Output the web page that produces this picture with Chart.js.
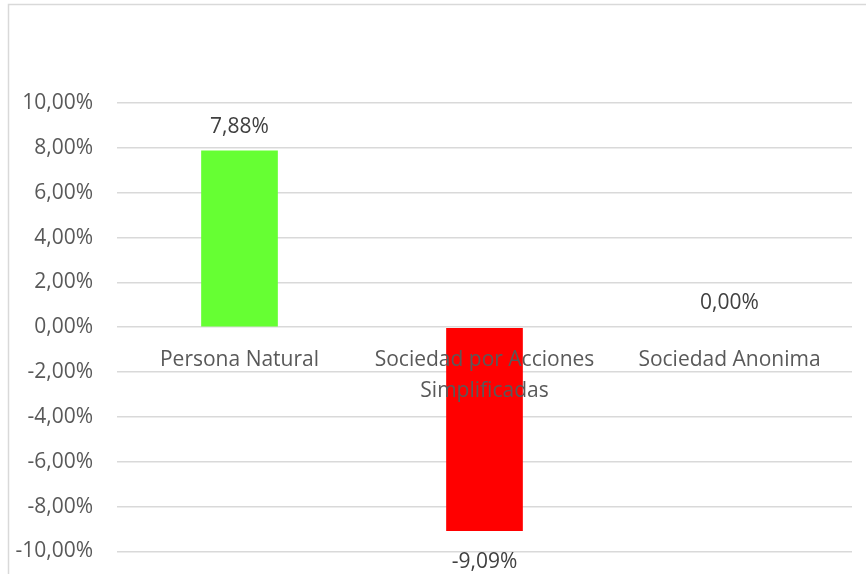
<!DOCTYPE html>
<html>
<head>
<meta charset="utf-8">
<script src="https://cdn.jsdelivr.net/npm/chart.js@4/dist/chart.umd.min.js"></script>
<style>
  html, body { margin: 0; padding: 0; background: #fff; overflow: hidden; }
  #wrap { width: 866px; height: 588px; position: relative; }
</style>
</head>
<body>
<div id="wrap"><canvas id="tipoChart"></canvas></div>
<script>
var categories = ['Persona Natural', ['Sociedad por Acciones', 'Simplificadas'], 'Sociedad Anonima'];
var variacion = [7.88, -9.09, 0.00];
var barColors = ['#66FF33', '#FF0000', '#66FF33'];
var yMin = -10, yMax = 10, yStep = 2;

function pct(v) {
  return v.toFixed(2).replace('.', ',') + '%';
}

// marco gris del grafico (arriba e izquierda)
var framePlugin = {
  id: 'frame',
  beforeDraw: function(chart) {
    var c = chart.ctx;
    c.save();
    c.fillStyle = '#fff';
    c.fillRect(0, 0, chart.width, chart.height);
    c.strokeStyle = '#d9d9d9';
    c.lineWidth = 1.5;
    c.beginPath();
    c.moveTo(8.5, chart.height);
    c.lineTo(8.5, 4.5);
    c.lineTo(chart.width, 4.5);
    c.stroke();
    c.restore();
  }
};

// etiquetas de datos encima / debajo de cada barra
var labelPlugin = {
  id: 'dataLabels',
  afterDatasetsDraw: function(chart) {
    var c = chart.ctx;
    var meta = chart.getDatasetMeta(0);
    c.save();
    c.font = '21px "Open Sans"';
    c.fillStyle = '#404040';
    c.textAlign = 'center';
    c.textBaseline = 'alphabetic';
    meta.data.forEach(function(bar, i) {
      var v = variacion[i];
      var y = v >= 0 ? bar.y - 18 : bar.y + 37;
      c.fillText(pct(v), bar.x, y);
    });
    c.restore();
  }
};

document.addEventListener('DOMContentLoaded', function() {
  Chart.defaults.font.family = '"Open Sans"';
  Chart.defaults.font.size = 21;
  Chart.defaults.color = '#595959';

  var ctx = document.getElementById('tipoChart').getContext('2d');
  var chart = new Chart(ctx, {
    type: 'bar',
    data: {
      labels: categories,
      datasets: [{
        data: variacion,
        backgroundColor: barColors,
        borderWidth: 0,
        barPercentage: 0.313,
        categoryPercentage: 1
      }]
    },
    options: {
      responsive: true,
      maintainAspectRatio: false,
      animation: false,
      layout: {
        padding: { top: 103, bottom: 9, left: 0, right: 14 }
      },
      plugins: {
        legend: { display: false },
        tooltip: { enabled: false }
      },
      scales: {
        x: {
          position: { y: 0 },
          grid: { display: false, drawTicks: false },
          border: { display: false },
          ticks: {
            z: 1,
            padding: 18,
            maxRotation: 0,
            autoSkip: false,
            font: { size: 21, lineHeight: 1.45 }
          }
        },
        y: {
          min: yMin,
          max: yMax,
          grid: { color: '#d9d9d9', lineWidth: 1.5, drawTicks: false },
          border: { display: false },
          ticks: {
            stepSize: yStep,
            padding: 24,
            callback: function(v) { return pct(v); }
          },
          afterFit: function(scale) { scale.width = 117; }
        }
      }
    },
    plugins: [framePlugin, labelPlugin]
  });
});
</script>
</body>
</html>
